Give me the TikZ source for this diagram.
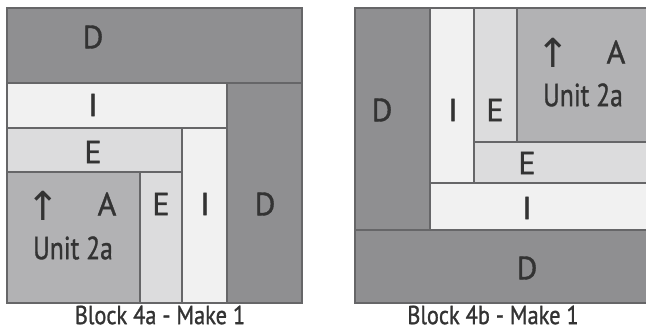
\documentclass[tikz,border=0pt]{standalone}
\usepackage{fontspec}
\setmainfont{PT Sans}
\newfontfamily\arrowfont{DejaVu Sans}
\begin{document}
\begin{tikzpicture}[x=1pt,y=-1pt]
\definecolor{dgray}{HTML}{8F8F91}
\definecolor{igray}{HTML}{F1F1F1}
\definecolor{egray}{HTML}{DCDCDD}
\definecolor{agray}{HTML}{B2B2B4}
\definecolor{edge}{HTML}{666668}
\definecolor{ink}{HTML}{333333}
\tikzset{patch/.style={draw=edge, line width=1.4pt},
lab/.style={text=ink, inner sep=0pt, font=\fontsize{32}{32}\selectfont\addfontfeatures{FakeBold=1.2}},
caption/.style={text=ink, inner sep=0pt, font=\fontsize{26}{26}\selectfont\addfontfeatures{FakeBold=1.2}},
arr/.style={text=ink, inner sep=0pt, font=\arrowfont\fontsize{40}{40}\selectfont}}
\useasboundingbox (0,0) rectangle (646,330);
\draw [patch, fill = dgray] (7,8) rectangle (302,83);
\draw [patch, fill = igray] (7,83) rectangle (227,128);
\draw [patch, fill = dgray] (227,83) rectangle (302,303);
\draw [patch, fill = egray] (7,128) rectangle (182,172);
\draw [patch, fill = igray] (182,128) rectangle (227,303);
\draw [patch, fill = agray] (7,172) rectangle (140,303);
\draw [patch, fill = egray] (140,172) rectangle (182,303);
\draw [patch, fill = dgray] (355,8) rectangle (430,230);
\draw [patch, fill = dgray] (355,230) rectangle (652,303);
\draw [patch, fill = igray] (430,8) rectangle (474,183);
\draw [patch, fill = igray] (430,183) rectangle (652,230);
\draw [patch, fill = egray] (474,8) rectangle (517,142);
\draw [patch, fill = egray] (474,142) rectangle (652,183);
\draw [patch, fill = agray] (517,8) rectangle (652,142);
\node [lab] (aD1) at (93,37) {D};
\node [lab] (aI1) at (93,105) {I};
\node [lab] (aE1) at (93,152) {E};
\node [arr] (aArr) at (43,206) {↑};
\node [lab] (aA) at (107,204) {A};
\node [lab] (aUnit) at (73,248) {\scalebox{0.8}[1]{Unit 2a}};
\node [lab] (aE2) at (161,204) {E};
\node [lab] (aI2) at (205,204) {I};
\node [lab] (aD2) at (265,204) {D};
\node [caption] (aCap) at (160,315) {\scalebox{0.86}[1]{Block 4a - Make 1}};
\node [lab] (bD1) at (382,110) {D};
\node [lab] (bI1) at (453,110) {I};
\node [lab] (bE1) at (495,110) {E};
\node [arr] (bArr) at (553,53) {↑};
\node [lab] (bA) at (616,52) {A};
\node [lab] (bUnit) at (583,95) {\scalebox{0.8}[1]{Unit 2a}};
\node [lab] (bE2) at (527,163) {E};
\node [lab] (bI2) at (527,208) {I};
\node [lab] (bD2) at (527,268) {D};
\node [caption] (bCap) at (493,315) {\scalebox{0.86}[1]{Block 4b - Make 1}};
\end{tikzpicture}
\end{document}
